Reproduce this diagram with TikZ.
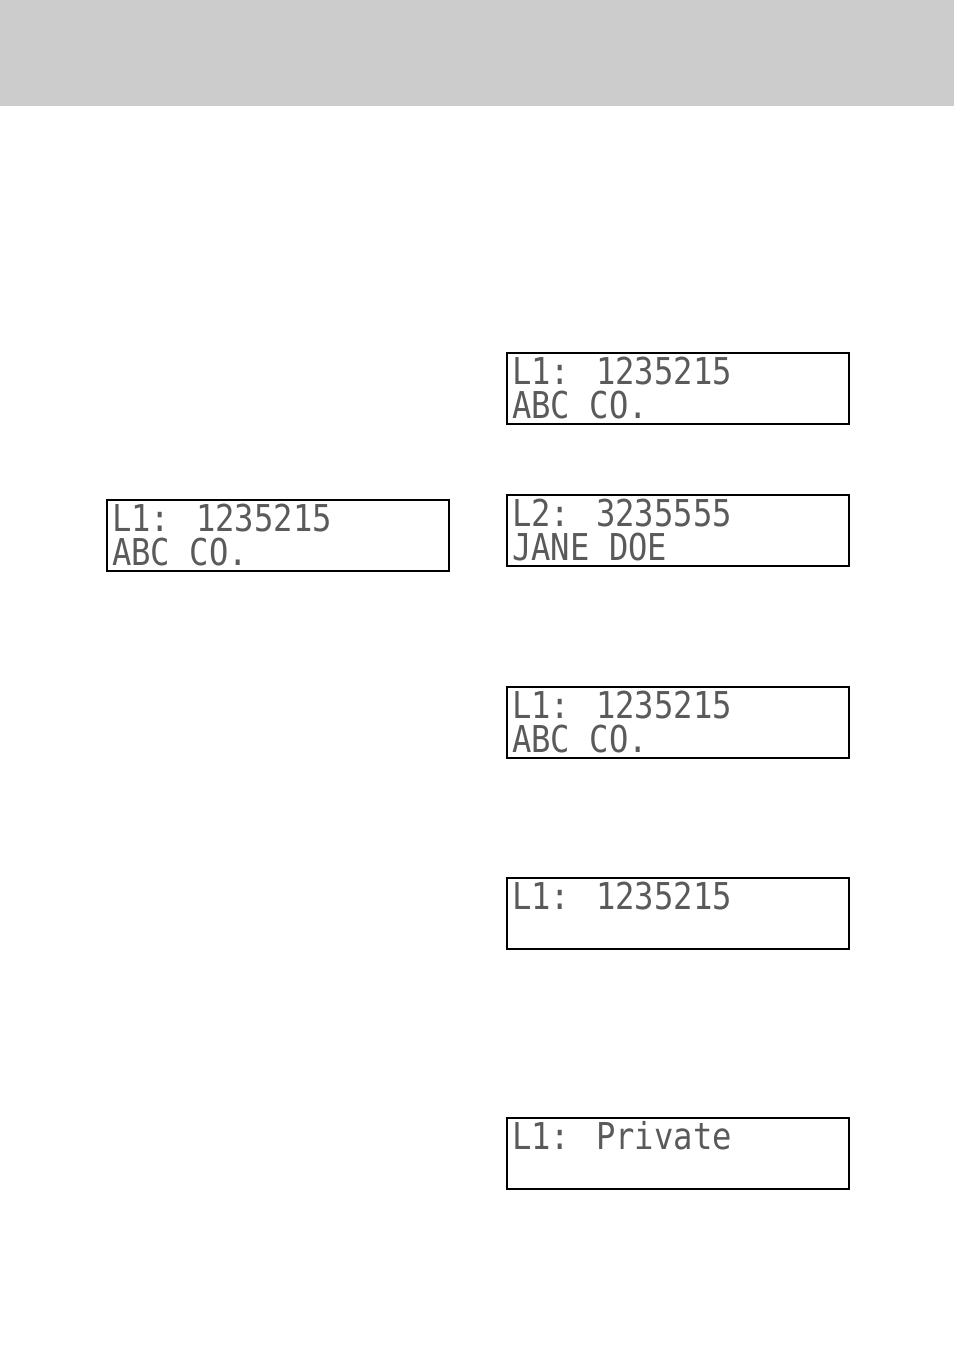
\documentclass[tikz,border=0pt]{standalone}
\usepackage{fontspec}
\newfontfamily\lcdfont{DejaVu Sans Mono}
\definecolor{band}{HTML}{CCCCCC}
\definecolor{lcdtext}{HTML}{5A5A5A}
\begin{document}
\begin{tikzpicture}[x=1pt,y=-1pt,
  lcd/.style={draw=black,line width=2pt,minimum width=342pt,minimum height=71pt,anchor=north west,inner sep=0pt},
  lcdline/.style={anchor=base west,inner sep=0pt,text=lcdtext,font=\lcdfont\fontsize{37}{37}\selectfont}]
\useasboundingbox (0,0) rectangle (954,1355);
\fill[band] (0,0) rectangle (954,106);
\newcommand{\lcd}[4]{%
  \node[lcd] (#1) at (#2) {};
  \node[lcdline] (#1a) at ([xshift=6pt,yshift=-32pt]#1.north west) {\scalebox{0.87}[1]{#3}};
  \node[lcdline] (#1b) at ([xshift=6pt,yshift=-66pt]#1.north west) {\scalebox{0.87}[1]{#4}};
}
\lcd{A}{106,499}{L1: 1235215}{ABC CO.}
\lcd{B}{506,352}{L1: 1235215}{ABC CO.}
\lcd{C}{506,494}{L2: 3235555}{JANE DOE}
\lcd{D}{506,686}{L1: 1235215}{ABC CO.}
\lcd{E}{506,877}{L1: 1235215}{}
\lcd{F}{506,1117}{L1: Private}{}
\end{tikzpicture}
\end{document}
